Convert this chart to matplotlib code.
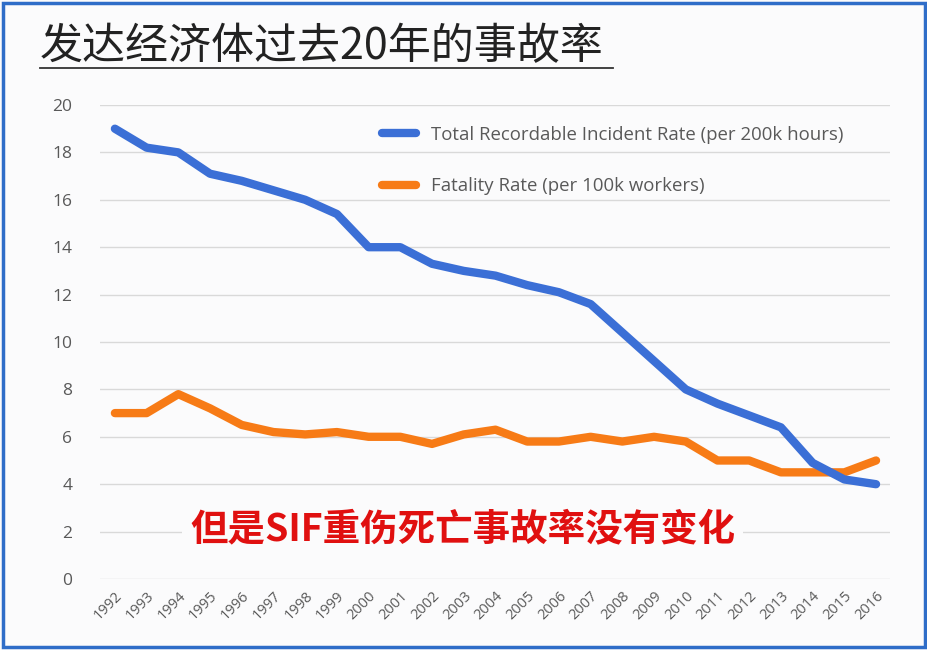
import numpy as np
import matplotlib.pyplot as plt
from matplotlib.patches import Rectangle

plt.rcParams['font.family'] = ['Noto Sans CJK SC', 'DejaVu Sans']

# -----------------------------
# Data
# -----------------------------
YEARS = list(range(1992, 2017))
TRIR = [19.0, 18.2, 18.0, 17.1, 16.8, 16.4, 16.0, 15.4, 14.0, 14.0,
        13.3, 13.0, 12.8, 12.4, 12.1, 11.6, 10.4, 9.2, 8.0, 7.4,
        6.9, 6.4, 4.9, 4.2, 4.0]
FATALITY = [7.0, 7.0, 7.8, 7.2, 6.5, 6.2, 6.1, 6.2, 6.0, 6.0,
            5.7, 6.1, 6.3, 5.8, 5.8, 6.0, 5.8, 6.0, 5.8, 5.0,
            5.0, 4.5, 4.5, 4.5, 5.0]
LABELS = ["Total Recordable Incident Rate (per 200k hours)",
          "Fatality Rate (per 100k workers)"]
YTICKS = list(range(0, 21, 2))

TITLE = "发达经济体过去20年的事故率"
NOTE = "但是SIF重伤死亡事故率没有变化"

BLUE = "#3b6fd6"
ORANGE = "#f77b16"
GRAY = "#595959"
LATIN = ["Open Sans", "DejaVu Sans"]

fig = plt.figure(figsize=(9.28, 6.5), dpi=100)
fig.patch.set_facecolor("#fbfbfc")
# blue frame around the slide
fig.patches.append(Rectangle((0.003, 0.004), 0.994, 0.992, transform=fig.transFigure,
                             fill=False, edgecolor="#2f6dc8", linewidth=2.5))

ax = fig.add_axes([100 / 928, 1 - 579 / 650, 790 / 928, (579 - 105) / 650])
ax.set_facecolor("none")

ax.plot(YEARS, TRIR, color=BLUE, lw=6, solid_capstyle="round",
        solid_joinstyle="round", label=LABELS[0], zorder=3)
ax.plot(YEARS, FATALITY, color=ORANGE, lw=6, solid_capstyle="round",
        solid_joinstyle="round", label=LABELS[1], zorder=2)

ax.set_xlim(1991.53, 2016.44)
ax.set_ylim(0, 20)
ax.set_yticks(YTICKS)
ax.set_yticklabels([str(v) for v in YTICKS], family=LATIN, fontsize=12.5, color=GRAY)
ax.set_xticks(YEARS)
ax.set_xticklabels([str(y) for y in YEARS], rotation=45, ha="right",
                   rotation_mode="anchor", fontsize=10.5, color=GRAY, family=LATIN)
ax.tick_params(axis="y", length=0, pad=20)
ax.tick_params(axis="x", length=0, pad=7)
ax.grid(axis="y", color="#d9d9d9", lw=1)
for s in ax.spines.values():
    s.set_visible(False)

leg = ax.legend(loc="upper left", bbox_to_anchor=(0.336, 0.992), frameon=False,
                prop={"family": LATIN, "size": 13.4}, handlelength=1.8,
                labelspacing=1.8, handletextpad=0.8)
for t in leg.get_texts():
    t.set_color(GRAY)
for h in leg.get_lines():
    h.set_linewidth(6)
    h.set_solid_capstyle("round")

ax.text(0.459, 0.105, NOTE, transform=ax.transAxes, ha="center", va="center",
        fontsize=27, fontweight="bold", color="#e01010", zorder=4,
        bbox=dict(facecolor="#fbfbfc", edgecolor="none", pad=6))

fig.text(40 / 928, 1 - 47 / 650, TITLE, ha="left", va="center",
         fontsize=31, color="#222222", fontweight="light")
fig.add_artist(plt.Line2D([40 / 928, 613 / 928], [1 - 68 / 650, 1 - 68 / 650],
                          color="#333333", lw=1.3))

fig.savefig("out.png", dpi=100, facecolor=fig.get_facecolor())
